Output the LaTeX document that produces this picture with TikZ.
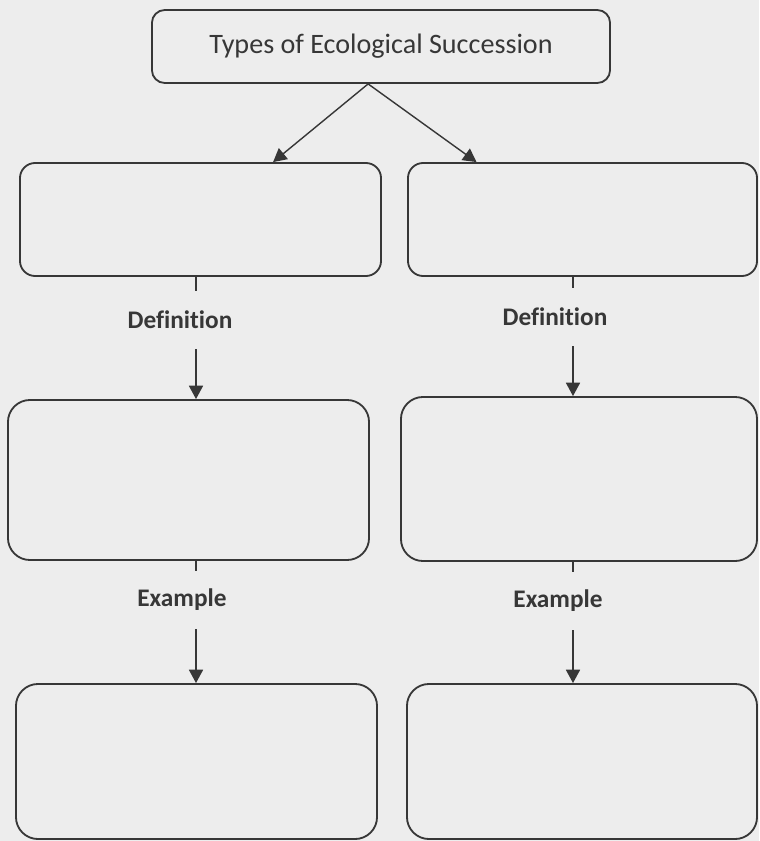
\documentclass[tikz,border=0pt]{standalone}
\usepackage{fontspec}
\setmainfont{Carlito}[Ligatures=NoCommon]
\usetikzlibrary{arrows.meta,calc}
\definecolor{ink}{RGB}{55,55,55}
\definecolor{paper}{RGB}{237,237,237}
\tikzset{
  card/.style={draw=ink, line width=1.3pt, rounded corners=0.55cm, inner sep=0pt},
  tag/.style={text=ink, font=\bfseries\fontsize{18}{22}\selectfont, inner sep=0pt, minimum height=1.45cm},
  link/.style={draw=ink, line width=1pt},
}
\begin{document}
\begin{tikzpicture}[x=0.025cm,y=-0.025cm]
\fill[paper] (0,0) rectangle (759,841);
\useasboundingbox (0,0) rectangle (759,841);

\node[card, rounded corners=0.32cm, minimum width=11.45cm, minimum height=1.825cm, text=ink, font=\fontsize{20}{24}\selectfont] (types) at (381,46.5) {Types of Ecological Succession};

\node[card, rounded corners=0.38cm, minimum width=9.025cm, minimum height=2.825cm] (a1) at (200.5,219.5) {};
\node[card, rounded corners=0.38cm, minimum width=8.725cm, minimum height=2.825cm] (b1) at (582.5,219.5) {};
\node[card, minimum width=9.025cm, minimum height=4cm] (a2) at (188.5,480) {};
\node[card, minimum width=8.9cm, minimum height=4.1cm] (b2) at (579,479) {};
\node[card, minimum width=9.025cm, minimum height=3.875cm] (a3) at (196.5,761.5) {};
\node[card, minimum width=8.75cm, minimum height=3.875cm] (b3) at (582,761.5) {};

\node[tag] (defa) at (180,320) {Definition};
\node[tag] (defb) at (555,317) {Definition};
\node[tag] (exa) at (182,600) {Example};
\node[tag] (exb) at (558,601) {Example};

\coordinate (split) at ($(types.south west)!0.472!(types.south east)$);
\coordinate (colA) at (196,0);
\coordinate (colB) at (573,0);

\path[link,->,>={Triangle[width=10pt,length=9.5pt]}] (split) -- ($(a1.north west)!0.70!(a1.north east)$);
\path[link,->,>={Triangle[width=10pt,length=9.5pt]}] (split) -- ($(b1.north west)!0.198!(b1.north east)$);

\path[link] (a1.south -| colA) -- (defa.north -| colA);
\path[link,->,>={Triangle[width=10pt,length=9.5pt]}] (defa.south -| colA) -- (a2.north -| colA);
\path[link] (a2.south -| colA) -- (exa.north -| colA);
\path[link,->,>={Triangle[width=10pt,length=9.5pt]}] (exa.south -| colA) -- (a3.north -| colA);

\path[link] (b1.south -| colB) -- (defb.north -| colB);
\path[link,->,>={Triangle[width=10pt,length=9.5pt]}] (defb.south -| colB) -- (b2.north -| colB);
\path[link] (b2.south -| colB) -- (exb.north -| colB);
\path[link,->,>={Triangle[width=10pt,length=9.5pt]}] (exb.south -| colB) -- (b3.north -| colB);
\end{tikzpicture}
\end{document}
